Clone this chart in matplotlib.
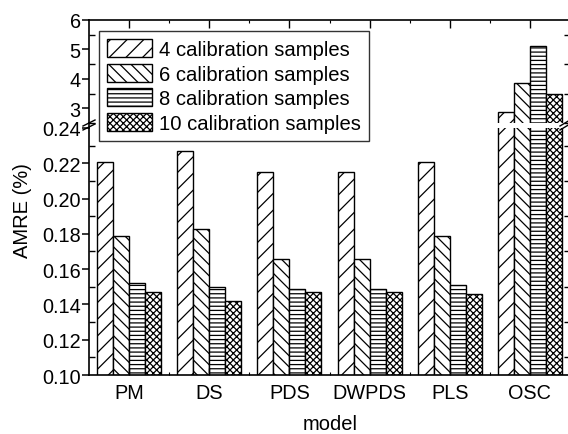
import matplotlib
matplotlib.use("Agg")
import matplotlib.pyplot as plt
from matplotlib.lines import Line2D
from matplotlib.ticker import MultipleLocator, FixedLocator
import numpy as np

plt.rcParams['font.family'] = ['Liberation Sans', 'DejaVu Sans']
plt.rcParams['hatch.linewidth'] = 0.9

models = ["PM", "DS", "PDS", "DWPDS", "PLS", "OSC"]
series_labels = ["4 calibration samples", "6 calibration samples",
                 "8 calibration samples", "10 calibration samples"]
cal4 = [0.221, 0.227, 0.215, 0.215, 0.221, 2.87]
cal6 = [0.179, 0.183, 0.166, 0.166, 0.179, 3.85]
cal8 = [0.152, 0.150, 0.149, 0.149, 0.151, 5.12]
cal10 = [0.147, 0.142, 0.147, 0.147, 0.146, 3.50]
series = [cal4, cal6, cal8, cal10]
hatches = ["//", "\\\\\\", "----", "xxxxx"]

W, H = 568, 435
fig = plt.figure(figsize=(W / 100, H / 100), dpi=100)

def fx(px):
    return px / W

def fy(py):
    return 1 - py / H

left, right = 89, 570
ax_lo = fig.add_axes([fx(left), fy(376), fx(right - left), fy(129) - fy(376)])
ax_hi = fig.add_axes([fx(left), fy(124), fx(right - left), fy(21) - fy(124)])

x = np.arange(len(models))
bw = 0.2
for ax in (ax_lo, ax_hi):
    for i, (vals, h) in enumerate(zip(series, hatches)):
        ax.bar(x + (i - 1.5) * bw, vals, width=bw, facecolor="white",
               edgecolor="black", linewidth=1.0, hatch=h, label=series_labels[i])
    ax.set_xlim(-0.5, len(models) - 0.5)
    for s in ax.spines.values():
        s.set_linewidth(1.2)

ax_lo.set_ylim(0.10, 0.24)
ax_hi.set_ylim(2.5, 6.0)
ax_lo.spines['top'].set_visible(False)
ax_hi.spines['bottom'].set_visible(False)

ax_lo.yaxis.set_major_locator(MultipleLocator(0.02))
ax_lo.yaxis.set_minor_locator(MultipleLocator(0.01))
ax_lo.yaxis.set_major_formatter(plt.FuncFormatter(lambda v, p: f"{v:.2f}"))
ax_hi.yaxis.set_major_locator(FixedLocator([3, 4, 5, 6]))
ax_hi.yaxis.set_minor_locator(FixedLocator([2.5, 3.5, 4.5, 5.5]))

TS = 14.3
for ax in (ax_lo, ax_hi):
    ax.tick_params(axis='y', which='major', direction='out', length=5, width=1.1,
                   labelsize=TS, pad=1, left=True, right=True, labelright=False)
    ax.tick_params(axis='y', which='minor', direction='in', length=4, width=1.0,
                   left=True, right=True)

ax_lo.set_xticks(x)
ax_lo.set_xticklabels(models)
ax_lo.xaxis.set_minor_locator(FixedLocator(x[:-1] + 0.5))
ax_lo.tick_params(axis='x', which='major', direction='in', length=5, width=1.0,
                  labelsize=TS, pad=6, top=False)
ax_lo.tick_params(axis='x', which='minor', direction='in', length=2, width=0.8, top=False)

ax_hi.set_xticks(x)
ax_hi.xaxis.set_minor_locator(FixedLocator(x[:-1] + 0.5))
ax_hi.tick_params(axis='x', which='major', direction='in', length=6, width=1.0,
                  bottom=False, top=True, labelbottom=False)
ax_hi.tick_params(axis='x', which='minor', direction='in', length=2, width=0.8,
                  bottom=False, top=True)

# continuous left spine across the break
fig.add_artist(Line2D([fx(left), fx(left)], [fy(124), fy(129)], color="black",
                      linewidth=1.2, transform=fig.transFigure))
# break marks
for off in (0, 4):
    fig.add_artist(Line2D([fx(left - 6), fx(left + 6)], [fy(131 - off), fy(125 - off)],
                          color="black", linewidth=1.0, transform=fig.transFigure))
    fig.add_artist(Line2D([fx(560), fx(570)], [fy(131 - off), fy(125 - off)],
                          color="black", linewidth=1.0, transform=fig.transFigure))

leg = ax_hi.legend(loc="upper left", bbox_to_anchor=(fx(99), fy(32)),
                   bbox_transform=fig.transFigure, fontsize=14.6, frameon=True,
                   fancybox=False, edgecolor="black", handlelength=2.2,
                   handleheight=1.0, handletextpad=0.35, labelspacing=0.22,
                   borderpad=0.4, borderaxespad=0)
leg.get_frame().set_linewidth(1.0)
leg.set_zorder(10)

fig.text(fx(23), fy(211), "AMRE (%)", rotation=90, ha="center", va="center",
         fontsize=14.5)
fig.text(fx(330), fy(425), "model", ha="center", va="center", fontsize=14.5)

fig.savefig("out.png", dpi=100)
